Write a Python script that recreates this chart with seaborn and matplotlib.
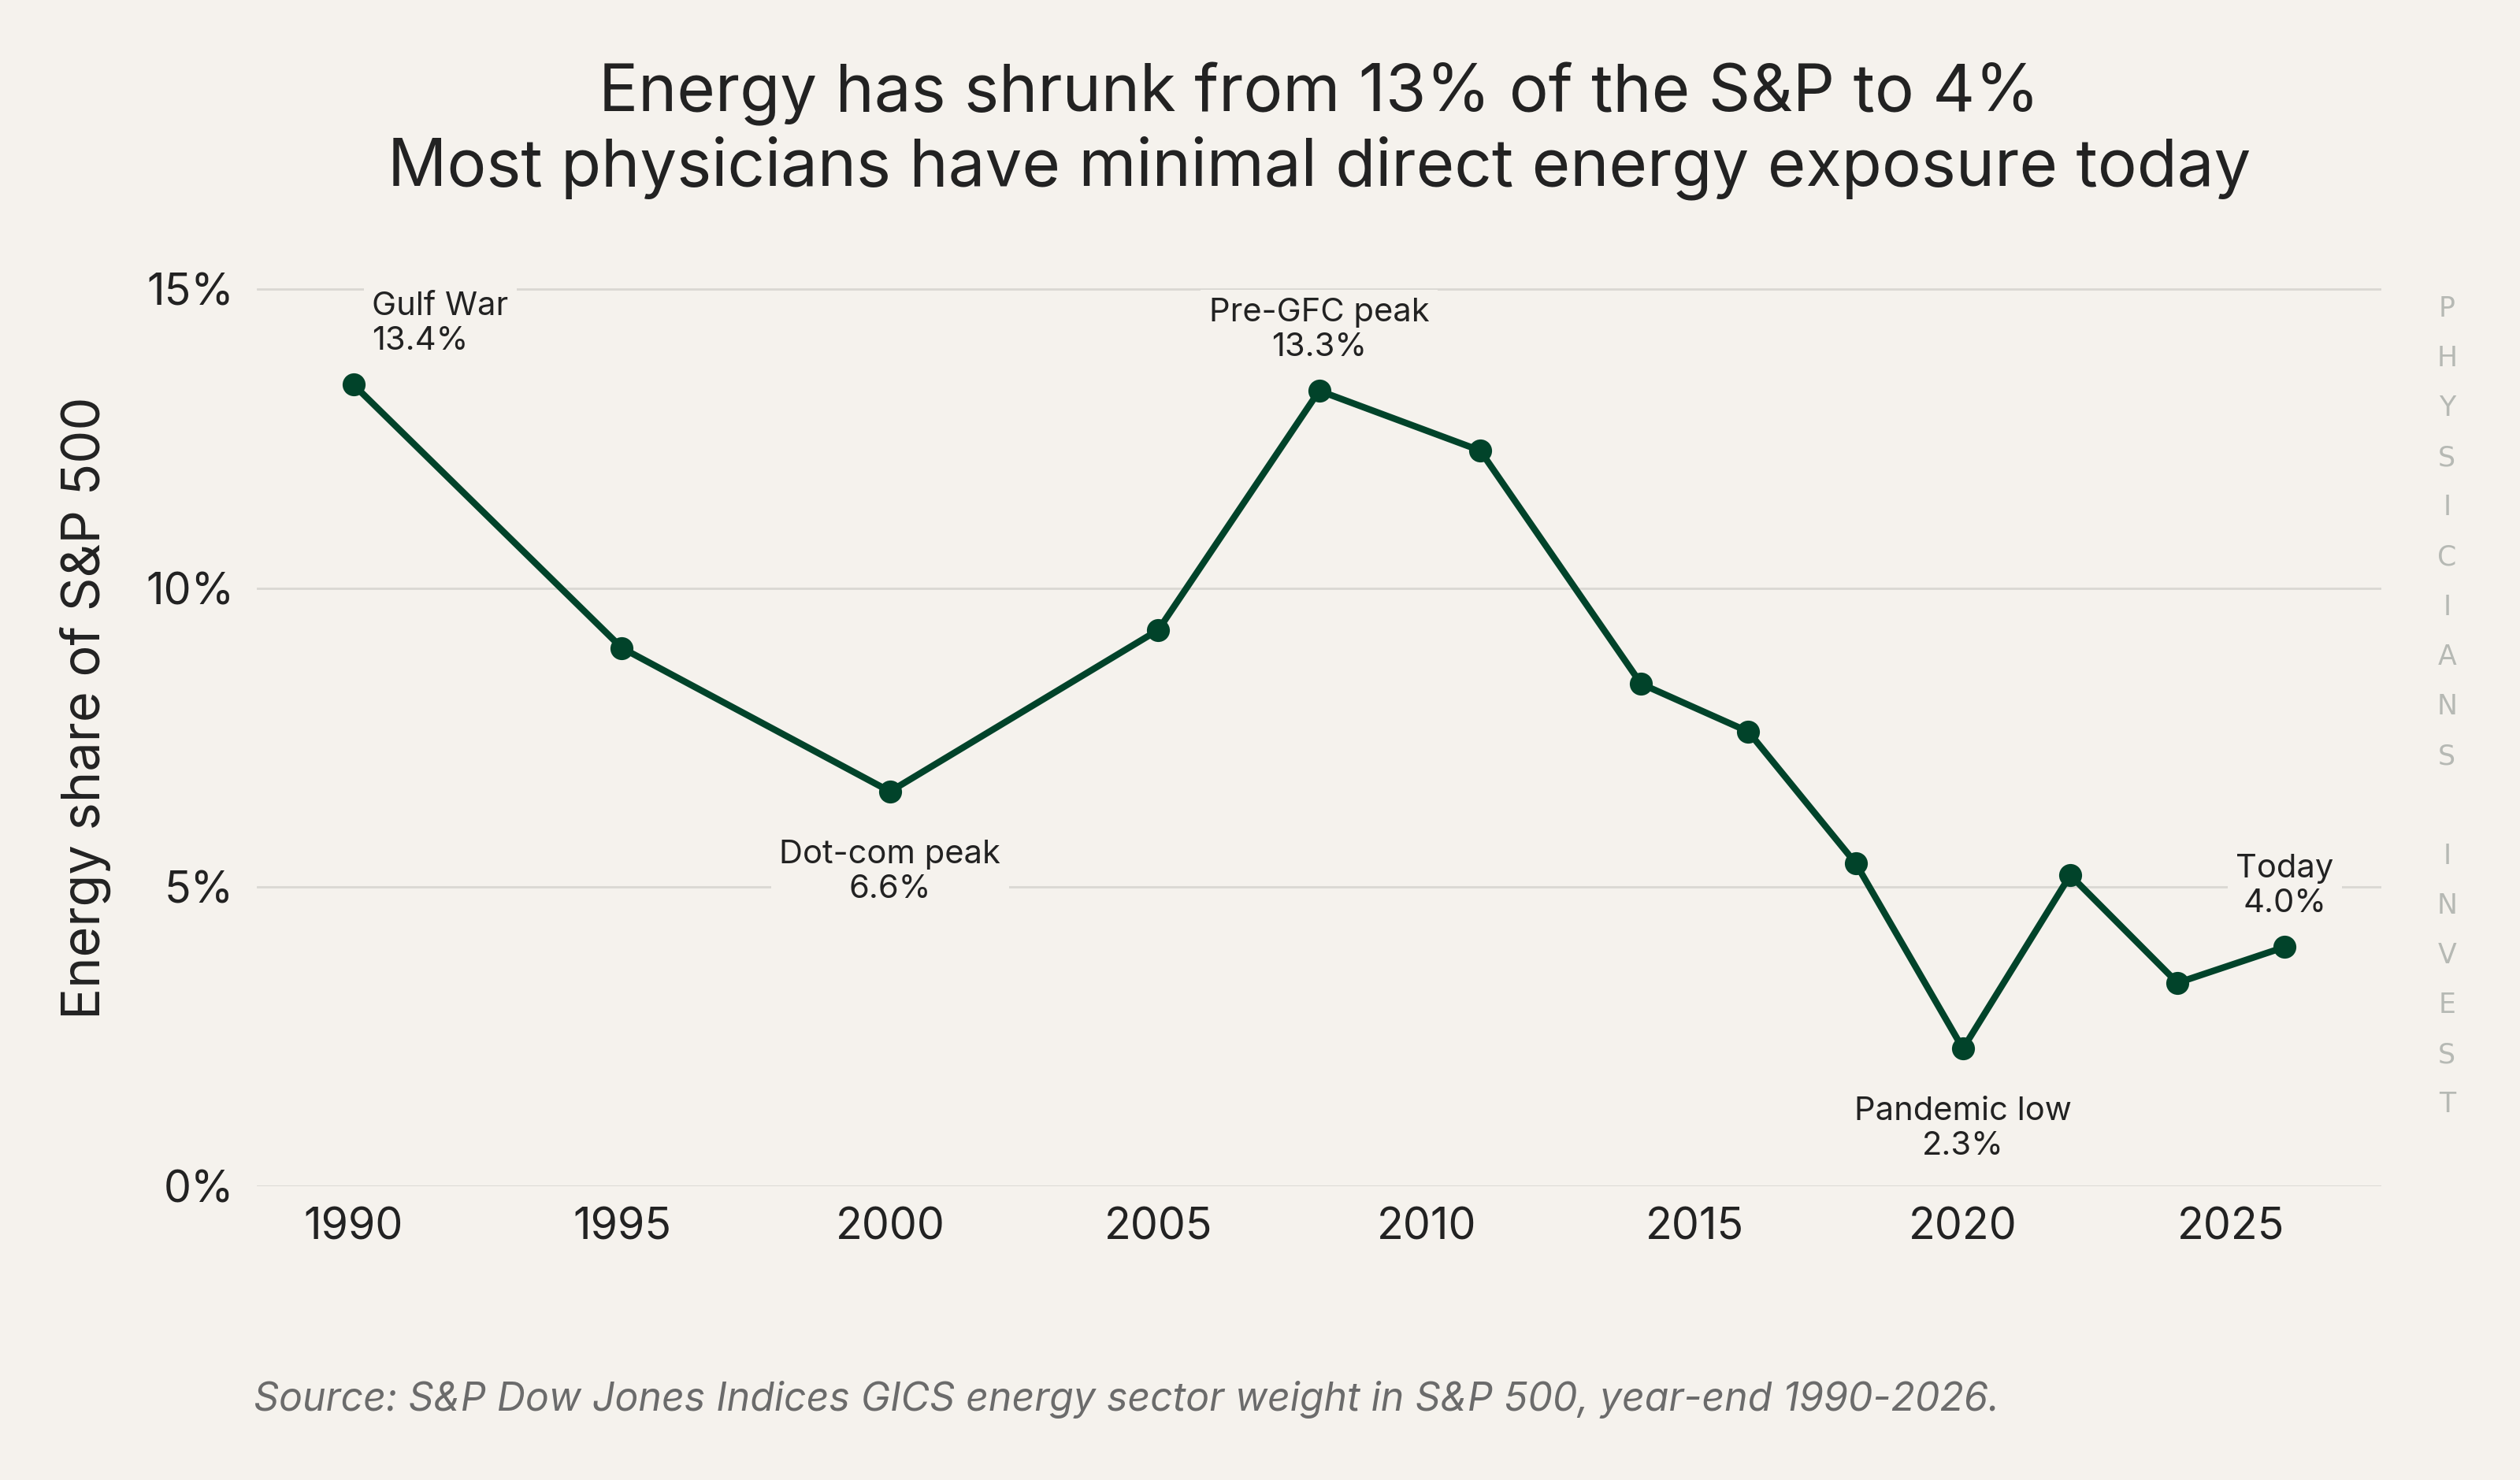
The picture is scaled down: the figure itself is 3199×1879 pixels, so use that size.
import matplotlib
matplotlib.use("Agg")
import matplotlib.pyplot as plt
import matplotlib.ticker as mticker
import seaborn as sns
import pandas as pd

# datos
years = [1990, 1995, 2000, 2005, 2008, 2011, 2014, 2016, 2018, 2020, 2022, 2024, 2026]
energy_share = [13.4, 9.0, 6.6, 9.3, 13.3, 12.3, 8.4, 7.6, 5.4, 2.3, 5.2, 3.4, 4.0]

ann_years = [1990, 2000, 2008, 2020, 2026]
ann_names = ["Gulf War", "Dot-com peak", "Pre-GFC peak", "Pandemic low", "Today"]

title_txt = "Energy has shrunk from 13% of the S&P to 4%\nMost physicians have minimal direct energy exposure today"
ylabel_txt = "Energy share of S&P 500"
source_txt = "Source: S&P Dow Jones Indices GICS energy sector weight in S&P 500, year-end 1990-2026."
watermark = "PHYSICIANS INVEST"

bg = "#F5F2ED"
green = "#01432A"
ink = "#222222"

sns.set_theme(style="white")
plt.rcParams["font.family"] = ["Inter", "DejaVu Sans"]

df = pd.DataFrame({"year": years, "share": energy_share})

fig = plt.figure(figsize=(15.995, 9.395), dpi=200, facecolor=bg)
ax = fig.add_axes([0.102, 0.1985, 0.843, 0.6466])
ax.set_facecolor(bg)

sns.lineplot(data=df, x="year", y="share", ax=ax, color=green, linewidth=3.0,
             marker="o", markersize=10.5, markeredgewidth=0, markerfacecolor=green, zorder=3)

ax.set_xlim(1988.2, 2027.8)
ax.set_ylim(0, 16)
ax.set_yticks([0, 5, 10, 15])
ax.yaxis.set_major_formatter(mticker.FuncFormatter(lambda v, p: f"{v:.0f}%"))
ax.set_xticks([1990, 1995, 2000, 2005, 2010, 2015, 2020, 2025])

ax.grid(axis="y", color="#DAD8D3", linewidth=1.0)
ax.grid(axis="x", visible=False)
for s in ax.spines.values():
    s.set_visible(False)
ax.tick_params(axis="both", labelsize=20, colors=ink, length=4.5, width=1.0, pad=5)
ax.tick_params(axis="y", pad=6)

ax.set_xlabel("")
ax.set_ylabel(ylabel_txt, fontsize=24, color=ink, labelpad=16)
ax.set_title(title_txt, fontsize=30, color=ink, pad=20, linespacing=1.2)

# anotaciones
for yr, name in zip(ann_years, ann_names):
    val = energy_share[years.index(yr)]
    label = f"{name}\n{val:.1f}%"
    if name in ("Dot-com peak", "Pandemic low"):
        off, va, ha = (0, -22), "top", "center"
    elif name == "Gulf War":
        off, va, ha = (8.5, 13), "bottom", "left"
    else:
        off, va, ha = (0, 13), "bottom", "center"
    ax.annotate(label, xy=(yr, val), xytext=off, textcoords="offset points",
                ha=ha, va=va, fontsize=15, color=ink, linespacing=1.2, zorder=4,
                bbox=dict(boxstyle="square,pad=0.25", fc=bg, ec="none"),
                annotation_clip=False)

fig.text(0.1007, 0.0468, source_txt, fontsize=18, style="italic", color="#6B6B6B",
         ha="left", va="baseline")

fig.text(0.971, 0.5226, "\n".join(list(watermark)), fontsize=12.5, color="#B6B9B4",
         ha="center", va="center", linespacing=2.08, family="DejaVu Sans")

fig.savefig("out.png", dpi=200, facecolor=bg)
